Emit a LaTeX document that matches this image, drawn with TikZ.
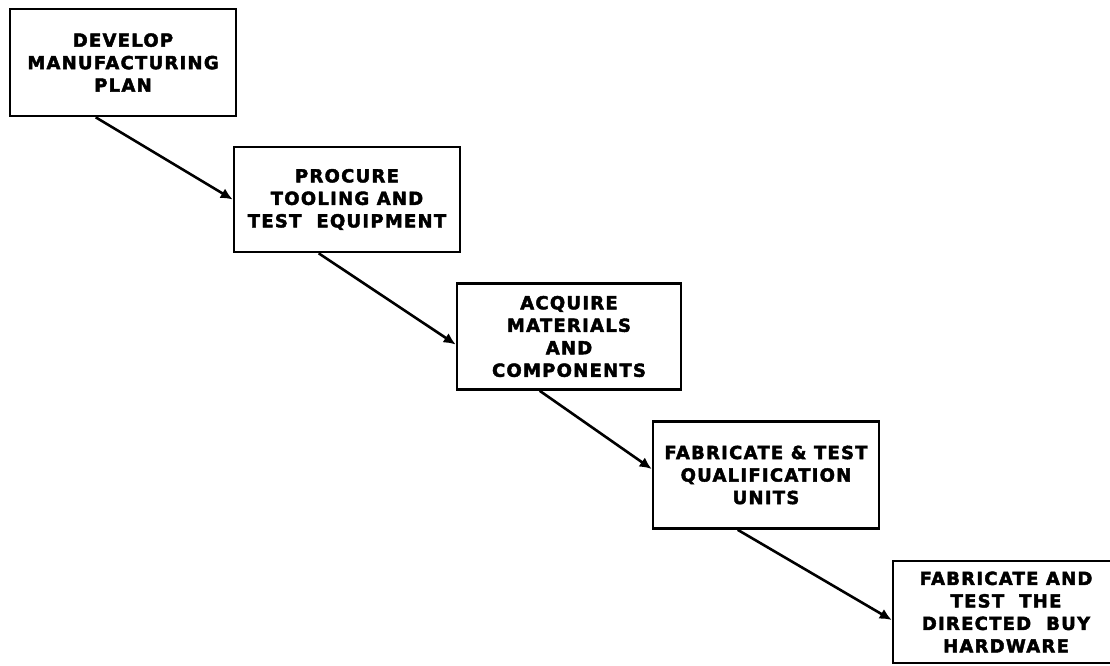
\documentclass[tikz,border=0pt]{standalone}
\usepackage{fontspec}
\newfontfamily\heavyfont{DejaVu Sans Bold}[LetterSpace=7, FakeBold=2.4]
\usetikzlibrary{arrows.meta,calc}
\begin{document}
\begin{tikzpicture}[x=1pt,y=-1pt,
  stepbox/.style={draw=black, line width=2.6pt, fill=white, minimum width=226pt,
    inner sep=0pt, align=center, font=\fontsize{18}{22.5}\heavyfont},
  flow/.style={line width=2.6pt, -{Latex[length=12pt,width=11pt]}}]
  \useasboundingbox (0,0) rectangle (1110,666);
  \fill[white] (0,0) rectangle (1110,666);

  % the five stages, stepping down to the right
  \node[stepbox, minimum height=107pt] (plan)  at (123,62.5)  {DEVELOP\\MANUFACTURING\\PLAN};
  \node[stepbox, minimum height=105pt] (tool)  at (347,199.5) {PROCURE\\TOOLING AND\\TEST\ \ EQUIPMENT};
  \node[stepbox, minimum height=106pt, minimum width=224pt] (mat) at (569,336.5) {ACQUIRE\\MATERIALS\\AND\\COMPONENTS};
  \node[stepbox, minimum height=107pt] (qual)  at (766,475)   {FABRICATE \& TEST\\QUALIFICATION\\UNITS};
  \node[stepbox, minimum height=102pt] (hw)    at (1006,612)  {FABRICATE AND\\TEST\ \ THE\\DIRECTED\ \ BUY\\HARDWARE};

  % connectors from the bottom of one stage to the side of the next
  \draw[flow] ($(plan.south west)+(87,0)$) -- ($(tool.west)+(0,0)$);
  \draw[flow] ($(tool.south west)+(86,0)$) -- ($(mat.west)+(0,8)$);
  \draw[flow] ($(mat.south west)+(84,0)$)  -- ($(qual.west)+(0,-6)$);
  \draw[flow] ($(qual.south west)+(86,0)$) -- ($(hw.west)+(0,8)$);
\end{tikzpicture}
\end{document}
